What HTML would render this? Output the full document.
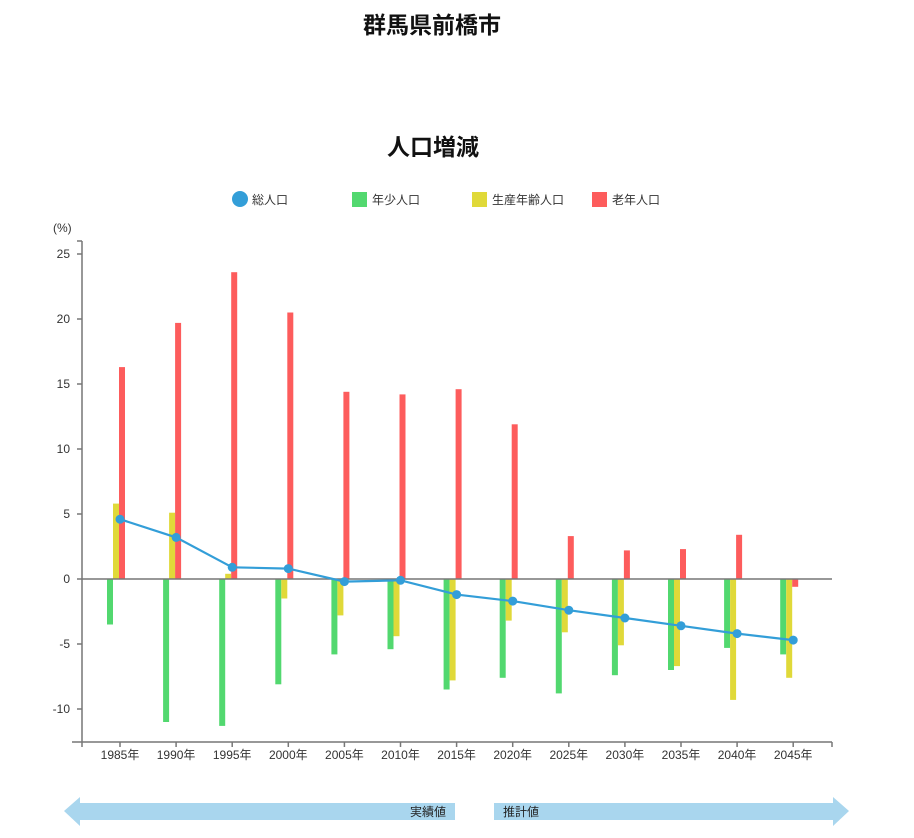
<!DOCTYPE html>
<html><head><meta charset="utf-8"><style>
body{margin:0;background:#fff;width:914px;height:838px;overflow:hidden}
svg{display:block;font-family:"Liberation Sans","Noto Sans CJK JP",sans-serif}
</style></head><body>
<svg width="914" height="838" viewBox="0 0 914 838" xmlns="http://www.w3.org/2000/svg">
<text x="432" y="33" text-anchor="middle" font-size="23" font-weight="bold" fill="#111">群馬県前橋市</text>
<text x="433" y="155" text-anchor="middle" font-size="23" font-weight="bold" fill="#111">人口増減</text>
<circle cx="240" cy="199" r="8" fill="#339ed8"/><text x="252" y="204" font-size="12" fill="#333">総人口</text>
<rect x="352" y="192" width="15" height="15" fill="#52d86f"/><text x="372" y="204" font-size="12" fill="#333">年少人口</text>
<rect x="472" y="192" width="15" height="15" fill="#e0d939"/><text x="492" y="204" font-size="12" fill="#333">生産年齢人口</text>
<rect x="592" y="192" width="15" height="15" fill="#fd5c5c"/><text x="612" y="204" font-size="12" fill="#333">老年人口</text>
<text x="53" y="232" font-size="12" fill="#333">(%)</text>
<g id="chart"></g>
<g fill="#a9d6ee">
<polygon points="64,811 80,797 80,803 455,803 455,820 80,820 80,826"/>
<polygon points="849,811 833,797 833,803 494,803 494,820 833,820 833,826"/>
</g>
<text x="446" y="816" text-anchor="end" font-size="12" fill="#222">実績値</text>
<text x="503" y="816" font-size="12" fill="#222">推計値</text>
</svg>
<script>
var d=[[-3.5,5.8,16.3,4.6],[-11,5.1,19.7,3.2],[-11.3,0.4,23.6,0.9],[-8.1,-1.5,20.5,0.8],[-5.8,-2.8,14.4,-0.2],[-5.4,-4.4,14.2,-0.1],[-8.5,-7.8,14.6,-1.2],[-7.6,-3.2,11.9,-1.7],[-8.8,-4.1,3.3,-2.4],[-7.4,-5.1,2.2,-3.0],[-7.0,-6.7,2.3,-3.6],[-5.3,-9.3,3.4,-4.2],[-5.8,-7.6,-0.6,-4.7]];
var Z=579,U=13,s='',col=['#52d86f','#e0d939','#fd5c5c'];
function Y(v){return Z-v*U}
s+='<line x1="82" y1="241" x2="82" y2="742" stroke="#777" stroke-width="1.5"/>';
s+='<line x1="72" y1="742" x2="832" y2="742" stroke="#777" stroke-width="1.5"/>';
s+='<line x1="832" y1="742" x2="832" y2="747" stroke="#777" stroke-width="1.5"/>';
s+='<line x1="82" y1="742" x2="82" y2="747" stroke="#777" stroke-width="1.5"/>';
s+='<line x1="77" y1="241" x2="82" y2="241" stroke="#777" stroke-width="1.5"/>';
for(var v=-10;v<=25;v+=5){var y=Y(v);s+='<line x1="77" y1="'+y+'" x2="82" y2="'+y+'" stroke="#777" stroke-width="1.5"/><text x="70" y="'+(y+4)+'" text-anchor="end" font-size="12" fill="#333">'+v+'</text>';}
var pts=[];
for(var i=0;i<13;i++){var c=120+56.1*i;
for(var k=0;k<3;k++){var v=d[i][k],x=c-13+6*k,y1=Math.min(Y(v),Z),h=Math.abs(v*U);s+='<rect x="'+x+'" y="'+y1+'" width="6" height="'+h+'" fill="'+col[k]+'"/>';}
s+='<line x1="'+c+'" y1="742" x2="'+c+'" y2="747" stroke="#777" stroke-width="1.5"/><text x="'+c+'" y="759" text-anchor="middle" font-size="12" fill="#333">'+(1985+5*i)+'年</text>';
pts.push(c+','+Y(d[i][3]));}
s+='<line x1="82" y1="579" x2="832" y2="579" stroke="#777" stroke-width="1.5"/>';
s+='<polyline points="'+pts.join(' ')+'" fill="none" stroke="#339ed8" stroke-width="2.2"/>';
pts.forEach(function(p){var a=p.split(',');s+='<circle cx="'+a[0]+'" cy="'+a[1]+'" r="4.5" fill="#339ed8"/>';});
document.getElementById('chart').innerHTML=s;
</script>
</body></html>
